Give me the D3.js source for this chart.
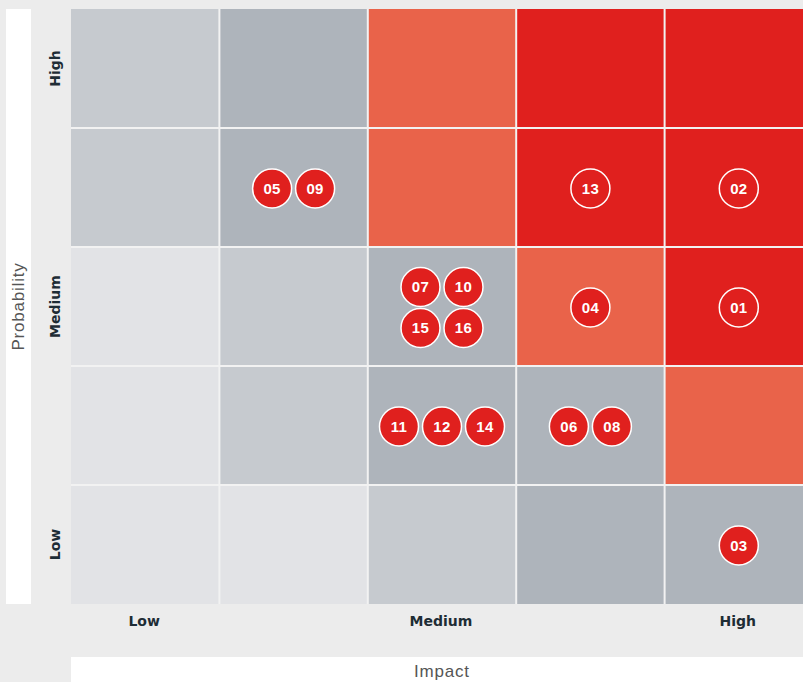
<!DOCTYPE html>
<html lang="en">
	<head>
		<meta charset="utf-8">
		<title>Risk matrix</title>
		<script type="text/javascript" src="https://cdn.jsdelivr.net/npm/d3@7"></script>
		<style type="text/css">
			body { margin: 0; background: #ececec; overflow: hidden; }
			svg { display: block; }
		</style>
	</head>
	<body>
		<script type="text/javascript">

			//Width and height
			var w = 803;
			var h = 682;

			//Levels along each axis (index 0 = low)
			var impactLevels = ["1", "2", "3", "4", "5"];
			var probLevels = ["1", "2", "3", "4", "5"];
			var impactTicks = [{ level: "1", label: "Low" }, { level: "3", label: "Medium" }, { level: "5", label: "High" }];
			var probTicks = [{ level: "5", label: "High" }, { level: "3", label: "Medium" }, { level: "1", label: "Low" }];

			//Severity class of every cell, rows from probability 5 down to 1
			var severity = [
				[1, 2, 3, 4, 4],
				[1, 2, 3, 4, 4],
				[0, 1, 2, 3, 4],
				[0, 1, 2, 2, 3],
				[0, 0, 1, 2, 2]
			];
			var severityColors = ["#e2e3e6", "#c6cacf", "#aeb4bb", "#e9634a", "#e0201e"];

			//Risks: id, impact level, probability level
			var riskIds = ["05", "09", "13", "02", "07", "10", "15", "16", "04", "01", "11", "12", "14", "06", "08", "03"];
			var riskImpact = ["2", "2", "4", "5", "3", "3", "3", "3", "4", "5", "3", "3", "3", "4", "4", "5"];
			var riskProb = ["4", "4", "4", "4", "3", "3", "3", "3", "3", "3", "2", "2", "2", "2", "2", "1"];

			var gx0 = 71, gy0 = 9, gx1 = 813, gy1 = 604;
			var font = "'Liberation Sans', Arial, Helvetica, sans-serif";
			var boldFont = "'DejaVu Sans', sans-serif";

			var xScale = d3.scaleBand().domain(impactLevels).range([gx0, gx1]);
			var yScale = d3.scaleBand().domain(probLevels.slice().reverse()).range([gy0, gy1]);

			var svg = d3.select("body")
						.append("svg")
						.attr("width", w)
						.attr("height", h);

			//White strips behind the axis titles
			svg.append("rect").attr("x", 6).attr("y", gy0).attr("width", 25).attr("height", gy1 - gy0).attr("fill", "#fff");
			svg.append("rect").attr("x", gx0).attr("y", 657).attr("width", w - gx0).attr("height", 30).attr("fill", "#fff");

			//Cells
			var cells = [];
			probLevels.slice().reverse().forEach(function(p, r) {
				impactLevels.forEach(function(im, c) {
					cells.push({ p: p, im: im, s: severity[r][c] });
				});
			});

			svg.append("rect")
			   .attr("x", gx0).attr("y", gy0)
			   .attr("width", gx1 - gx0).attr("height", gy1 - gy0)
			   .attr("fill", "#f2f2f2");

			svg.selectAll("rect.cell")
			   .data(cells)
			   .enter()
			   .append("rect")
			   .attr("class", "cell")
			   .attr("x", function(d) { return xScale(d.im) + (d.im === "1" ? 0 : 1); })
			   .attr("y", function(d) { return yScale(d.p) + (d.p === "5" ? 0 : 1); })
			   .attr("width", function(d) { return xScale.bandwidth() - (d.im === "1" ? 1 : 2); })
			   .attr("height", function(d) { return yScale.bandwidth() - (d.p === "5" ? 1 : (d.p === "1" ? 1 : 2)); })
			   .attr("fill", function(d) { return severityColors[d.s]; });

			//Axis tick labels
			svg.selectAll("text.xtick")
			   .data(impactTicks)
			   .enter()
			   .append("text")
			   .attr("class", "xtick")
			   .attr("x", function(d) { return xScale(d.level) + xScale.bandwidth() / 2 - 1; })
			   .attr("y", 626)
			   .attr("text-anchor", "middle")
			   .attr("font-family", boldFont)
			   .attr("font-weight", "bold")
			   .attr("font-size", 14)
			   .attr("fill", "#1e2c35")
			   .text(function(d) { return d.label; });

			svg.selectAll("text.ytick")
			   .data(probTicks)
			   .enter()
			   .append("text")
			   .attr("class", "ytick")
			   .attr("transform", function(d) {
			   		return "translate(60," + (yScale(d.level) + yScale.bandwidth() / 2) + ") rotate(-90)";
			   })
			   .attr("text-anchor", "middle")
			   .attr("font-family", boldFont)
			   .attr("font-weight", "bold")
			   .attr("font-size", 14)
			   .attr("fill", "#1e2c35")
			   .text(function(d) { return d.label; });

			//Axis titles
			svg.append("text")
			   .attr("transform", "translate(24," + ((gy0 + gy1) / 2) + ") rotate(-90)")
			   .attr("text-anchor", "middle")
			   .attr("font-family", font)
			   .attr("font-size", 17)
			   .attr("letter-spacing", 0.8)
			   .attr("fill", "#555")
			   .text("Probability");

			svg.append("text")
			   .attr("x", 442)
			   .attr("y", 677)
			   .attr("text-anchor", "middle")
			   .attr("font-family", font)
			   .attr("font-size", 17)
			   .attr("letter-spacing", 0.8)
			   .attr("fill", "#555")
			   .text("Impact");

			//Place risks inside their cell
			var risks = riskIds.map(function(id, i) {
				return { id: id, im: riskImpact[i], p: riskProb[i] };
			});
			var groups = d3.group(risks, function(d) { return d.im + "|" + d.p; });
			var step = 43;
			groups.forEach(function(list) {
				var n = list.length;
				var cols = n === 4 ? 2 : n;
				var rows = Math.ceil(n / cols);
				list.forEach(function(d, k) {
					var c = k % cols, r = Math.floor(k / cols);
					d.cx = xScale(d.im) + xScale.bandwidth() / 2 + (c - (cols - 1) / 2) * step;
					d.cy = yScale(d.p) + yScale.bandwidth() / 2 + (r - (rows - 1) / 2) * 41 + 1;
				});
			});

			var marks = svg.selectAll("g.risk")
			   .data(risks)
			   .enter()
			   .append("g")
			   .attr("class", "risk")
			   .attr("transform", function(d) { return "translate(" + d.cx + "," + d.cy + ")"; });

			marks.append("circle")
			   .attr("r", 19.5)
			   .attr("fill", "#e0201e")
			   .attr("stroke", "#fff")
			   .attr("stroke-width", 1.5);

			marks.append("text")
			   .attr("text-anchor", "middle")
			   .attr("dy", "0.36em")
			   .attr("font-family", font)
			   .attr("font-weight", "bold")
			   .attr("font-size", 15)
			   .attr("letter-spacing", 0.3)
			   .attr("fill", "#fff")
			   .text(function(d) { return d.id; });

		</script>
	</body>
</html>
